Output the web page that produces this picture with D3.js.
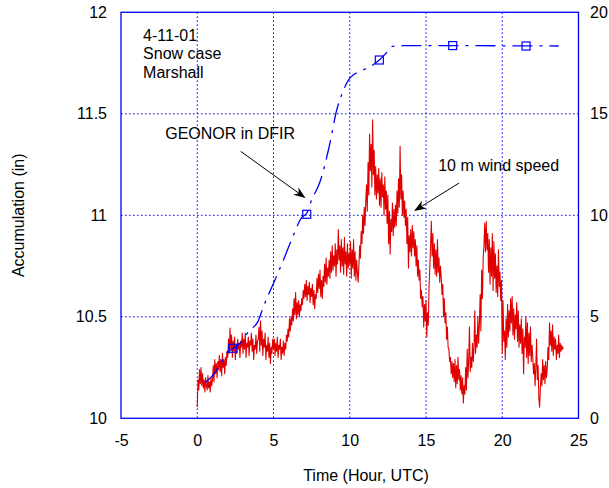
<!DOCTYPE html>
<html>
<head>
<meta charset="utf-8">
<script src="https://cdn.jsdelivr.net/npm/d3@7"></script>
<style>
  html, body { margin: 0; padding: 0; background: #fff; }
  svg text { font-family: "Liberation Sans", Arial, Helvetica, sans-serif; fill: #000; }
</style>
</head>
<body>
<svg id="chart" width="609" height="488"></svg>
<script>
// ---------------- data ----------------
const xTicks = [-5, 0, 5, 10, 15, 20, 25];
const xTickLabels = ["-5", "0", "5", "10", "15", "20", "25"];
const leftTicks = [10, 10.5, 11, 11.5, 12];
const leftTickLabels = ["10", "10.5", "11", "11.5", "12"];
const rightTicks = [0, 5, 10, 15, 20];
const rightTickLabels = ["0", "5", "10", "15", "20"];

// GEONOR accumulation (in), time in hours UTC
const accumTime = [0.5, 1.0, 1.5, 1.93, 2.37, 2.8, 3.4, 4.0, 4.34, 5.0, 5.65, 6.3, 6.85, 7.18, 7.5, 8.05, 8.7, 9.15, 9.5, 9.9, 10.3, 10.7, 11.4, 11.94, 12.4, 12.8, 13.5, 16.0, 20.0, 23.7];
const accumValue = [10.175, 10.21, 10.265, 10.32, 10.345, 10.37, 10.43, 10.48, 10.55, 10.665, 10.78, 10.90, 10.99, 11.01, 11.075, 11.165, 11.355, 11.52, 11.60, 11.665, 11.695, 11.71, 11.735, 11.765, 11.80, 11.832, 11.836, 11.836, 11.835, 11.834];
const markerTime = [2.33, 7.18, 11.94, 16.75, 21.56];
const markerValue = [10.345, 11.005, 11.765, 11.836, 11.834];

// 10 m wind speed (right axis), sampled every 0.05 h from 0 h
const windStart = 0, windStep = 0.05;
const windSpeed = [
  0.55, 1.9, 1.4, 2.4, 1.7, 2.5, 1.6, 2.2, 1.5, 1.9, 1.3, 2.0, 1.6, 1.4, 2.1, 1.5, 1.8, 1.3, 2.0, 1.6,
  1.9, 2.6, 1.8, 2.9, 2.2, 2.7, 2.0, 2.8, 2.4, 3.1, 2.3, 2.9, 2.1, 3.2, 2.5, 2.9, 2.2, 3.0, 2.6, 3.3,
  3.0, 3.9, 3.2, 4.45, 3.4, 4.1, 3.0, 3.8, 3.3, 4.0, 2.9, 3.6, 3.2, 3.9, 3.4, 3.7, 3.0, 3.8, 3.5, 4.2,
  3.2, 3.9, 3.4, 4.2, 3.0, 3.7, 3.5, 4.0, 3.1, 3.8, 3.6, 4.2, 3.3, 3.9, 2.9, 3.6, 3.4, 4.1, 3.2, 3.8,
  3.9, 4.5, 3.3, 4.8, 3.6, 4.3, 3.1, 3.9, 3.5, 4.2, 2.9, 3.6, 3.3, 4.0, 3.0, 3.7, 2.7, 3.5, 3.2, 3.9,
  3.4, 3.9, 3.1, 3.7, 3.3, 4.0, 3.0, 3.6, 3.4, 3.9, 2.9, 3.5, 3.2, 3.8, 3.1, 3.7, 3.4, 4.1, 3.8, 4.4,
  4.0, 4.9, 4.3, 5.0, 4.6, 5.4, 4.8, 5.9, 5.1, 6.2, 4.9, 5.7, 5.1, 5.8, 5.0, 5.6, 5.3, 5.9, 5.6, 6.3,
  5.9, 6.6, 6.0, 6.8, 5.8, 6.5, 6.1, 6.7, 5.7, 6.4, 6.0, 6.6, 5.6, 6.3, 5.4, 6.1, 5.9, 6.9, 6.2, 7.1,
  6.4, 7.3, 6.0, 6.8, 5.9, 7.0, 6.5, 7.6, 6.7, 7.9, 6.6, 7.4, 7.0, 7.8, 6.9, 8.2, 7.2, 8.5, 7.3, 8.0,
  7.5, 8.6, 7.0, 8.3, 7.6, 9.3, 7.8, 8.5, 7.2, 8.8, 7.5, 8.4, 7.1, 8.9, 7.6, 8.2, 7.0, 8.6, 7.4, 8.1,
  7.6, 8.7, 6.9, 8.3, 7.4, 8.8, 7.0, 8.2, 6.8, 7.8, 7.2, 6.7, 7.5, 8.5, 7.9, 9.2, 8.6, 10.0, 9.1, 10.4,
  9.5, 10.7, 11.5, 10.2, 12.6, 11.0, 14.0, 12.2, 13.5, 11.4, 14.7, 12.0, 13.2, 11.0, 12.4, 10.8, 12.0, 11.1, 12.3, 10.5,
  11.8, 10.4, 12.1, 10.9, 11.5, 10.0, 11.9, 10.3, 11.2, 9.6, 11.0, 8.6, 10.2, 8.1, 9.8, 9.2, 10.6, 9.0, 10.3, 9.4,
  10.5, 9.5, 11.2, 10.1, 11.8, 10.4, 13.4, 10.8, 12.0, 10.0, 11.2, 9.9, 10.7, 9.5, 10.3, 8.6, 9.9, 7.4, 9.0, 8.2,
  9.3, 8.0, 9.5, 8.4, 9.2, 8.0, 8.8, 7.5, 8.5, 7.0, 7.8, 6.8, 7.3, 5.9, 6.3, 5.5, 6.0, 4.5, 5.6, 4.8,
  5.8, 4.0, 5.2, 4.6, 6.5, 7.4, 8.5, 9.7, 8.0, 9.1, 7.4, 8.6, 7.1, 8.3, 7.0, 8.8, 7.2, 7.9, 6.7, 7.5,
  6.9, 6.1, 6.6, 5.0, 5.9, 4.7, 5.2, 3.9, 4.5, 3.5, 3.4, 2.8, 3.0, 2.2, 2.8, 2.0, 2.7, 1.8, 2.9, 1.5,
  2.6, 1.7, 3.0, 1.9, 2.4, 1.4, 2.1, 1.2, 2.0, 0.75, 1.6, 1.2, 2.5, 1.4, 3.4, 2.0, 2.9, 4.5, 2.3, 3.0,
  2.5, 3.7, 2.8, 3.5, 5.3, 3.2, 4.1, 3.5, 5.0, 3.7, 4.6, 6.1, 4.3, 7.3, 5.9, 7.9, 8.5, 9.6, 8.2, 9.7,
  8.3, 9.1, 7.2, 8.8, 6.6, 8.4, 7.0, 9.1, 6.3, 8.7, 6.9, 8.1, 6.2, 7.5, 6.0, 8.3, 6.5, 7.2, 5.8, 6.8,
  3.2, 5.8, 3.8, 4.3, 2.9, 4.9, 3.5, 5.6, 4.0, 5.3, 4.3, 5.9, 4.7, 6.0, 4.1, 5.4, 3.9, 5.1, 4.4, 5.7,
  3.8, 5.3, 3.5, 4.6, 3.7, 4.9, 3.2, 4.4, 2.2, 4.0, 3.5, 5.0, 3.0, 4.7, 2.7, 4.2, 3.1, 4.5, 2.8, 3.6,
  3.0, 2.2, 2.7, 1.6, 2.5, 3.9, 1.9, 2.6, 1.0, 0.55, 1.5, 2.2, 1.6, 2.9, 1.9, 2.6, 1.7, 2.8, 2.0, 2.4,
  3.5, 2.9, 4.7, 3.6, 4.3, 3.3, 4.6, 3.1, 4.0, 3.4, 3.9, 2.9, 3.6, 3.2, 4.1, 3.0, 3.7, 3.3, 3.6, 3.4, 3.5
];

const infoLines = ["4-11-01", "Snow case", "Marshall"];
const xTitle = "Time (Hour, UTC)";
const yTitle = "Accumulation (in)";

// ---------------- drawing ----------------
const svg = d3.select("#chart");
const L = 121, R = 578.5, T = 12.3, B = 418.3;
const BLUE = "#0000ff", RED = "#e00000";
const FS = 16;

const x = d3.scaleLinear().domain([-5, 25]).range([L, R]);
const yL = d3.scaleLinear().domain([10, 12]).range([B, T]);
const yR = d3.scaleLinear().domain([0, 20]).range([B, T]);

// grid
const grid = svg.append("g");
grid.selectAll("line.vx").data(xTicks.filter(v => v > -5 && v < 25)).enter().append("line")
  .attr("x1", d => x(d)).attr("x2", d => x(d)).attr("y1", T).attr("y2", B)
  .attr("stroke", BLUE).attr("stroke-width", 1).attr("stroke-dasharray", "1.6,2.4");
grid.selectAll("line.hy").data(leftTicks.filter(v => v > 10 && v < 12)).enter().append("line")
  .attr("x1", L).attr("x2", R).attr("y1", d => yL(d)).attr("y2", d => yL(d))
  .attr("stroke", BLUE).attr("stroke-width", 1).attr("stroke-dasharray", "1.6,2.4");

// axes (labels only)
function styleAxis(g) {
  g.select(".domain").remove();
  g.selectAll(".tick line").remove();
  g.selectAll("text").attr("font-size", FS).attr("font-family", "Liberation Sans, Arial, sans-serif").attr("fill", "#000");
}
svg.append("g").attr("transform", `translate(0,${B})`)
  .call(d3.axisBottom(x).tickValues(xTicks).tickFormat((d, i) => xTickLabels[i]).tickSize(0).tickPadding(16))
  .call(styleAxis);
svg.append("g").attr("transform", `translate(${L},0)`)
  .call(d3.axisLeft(yL).tickValues(leftTicks).tickFormat((d, i) => leftTickLabels[i]).tickSize(0).tickPadding(14))
  .call(styleAxis);
svg.append("g").attr("transform", `translate(${R},0)`)
  .call(d3.axisRight(yR).tickValues(rightTicks).tickFormat((d, i) => rightTickLabels[i]).tickSize(0).tickPadding(11.5))
  .call(styleAxis);

// wind speed
const windData = windSpeed.map((v, i) => [windStart + i * windStep, v]);
svg.append("path").datum(windData)
  .attr("fill", "none").attr("stroke", RED).attr("stroke-width", 1.1).attr("stroke-linejoin", "round")
  .attr("d", d3.line().x(d => x(d[0])).y(d => yR(d[1])));

// accumulation
const accData = accumTime.map((t, i) => [t, accumValue[i]]);
svg.append("path").datum(accData)
  .attr("fill", "none").attr("stroke", BLUE).attr("stroke-width", 1.3)
  .attr("stroke-dasharray", "20,7,3,7")
  .attr("d", d3.line().curve(d3.curveMonotoneX).x(d => x(d[0])).y(d => yL(d[1])));
svg.selectAll("rect.mk").data(markerTime.map((t, i) => [t, markerValue[i]])).enter().append("rect")
  .attr("x", d => x(d[0]) - 4).attr("y", d => yL(d[1]) - 4).attr("width", 8).attr("height", 8)
  .attr("fill", "none").attr("stroke", BLUE).attr("stroke-width", 1.2);

// frame
svg.append("rect").attr("x", L).attr("y", T).attr("width", R - L).attr("height", B - T)
  .attr("fill", "none").attr("stroke", BLUE).attr("stroke-width", 1.3);

// annotations
function arrow(x1, y1, x2, y2) {
  const g = svg.append("g");
  const dx = x2 - x1, dy = y2 - y1, len = Math.hypot(dx, dy);
  const ux = dx / len, uy = dy / len, px = -uy, py = ux;
  const hl = 12, hw = 4.5;
  const bx = x2 - ux * hl, by = y2 - uy * hl;
  g.append("line").attr("x1", x1).attr("y1", y1).attr("x2", x2 - ux * 4).attr("y2", y2 - uy * 4)
    .attr("stroke", "#000").attr("stroke-width", 1);
  g.append("path").attr("d",
    `M${x2},${y2} L${bx + px * hw},${by + py * hw} L${x2 - ux * hl * 0.7},${y2 - uy * hl * 0.7} L${bx - px * hw},${by - py * hw} Z`)
    .attr("fill", "#000");
}
svg.append("text").attr("x", x(-2.1)).attr("y", yL(11.375)).attr("font-size", FS).text("GEONOR in DFIR");
arrow(x(2.85), yL(11.315), x(7.1), yL(11.085));
svg.append("text").attr("x", x(15.8)).attr("y", yR(12.16)).attr("font-size", FS).text("10 m wind speed");
arrow(x(17.17), yR(11.59), x(14.22), yR(10.21));

svg.selectAll("text.info").data(infoLines).enter().append("text")
  .attr("x", x(-3.55)).attr("y", (d, i) => 40.5 + i * 18.8).attr("font-size", FS).text(d => d);

svg.append("text").attr("x", 366).attr("y", 481).attr("text-anchor", "middle").attr("font-size", FS).text(xTitle);
svg.append("text").attr("transform", `translate(24,${(T + B) / 2}) rotate(-90)`)
  .attr("text-anchor", "middle").attr("font-size", FS).text(yTitle);
</script>
</body>
</html>
